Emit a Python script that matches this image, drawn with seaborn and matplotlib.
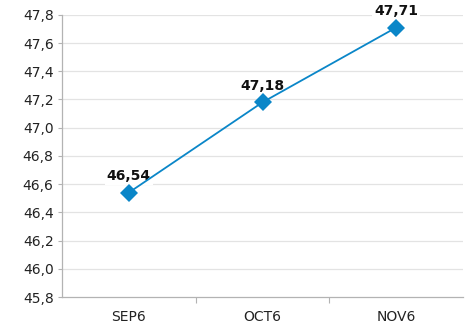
import matplotlib
matplotlib.use("Agg")
import matplotlib.pyplot as plt
import seaborn as sns
import pandas as pd

months = ["SEP6", "OCT6", "NOV6"]
values = [46.54, 47.18, 47.71]
y_ticks = [45.8, 46.0, 46.2, 46.4, 46.6, 46.8, 47.0, 47.2, 47.4, 47.6, 47.8]

sns.set_theme(style="white")
plt.rcParams["font.family"] = ["DejaVu Sans"]

df = pd.DataFrame({"month": months, "value": values})

fig = plt.figure(figsize=(4.73, 3.24), dpi=100)
ax = fig.add_axes([0.131, 0.0833, 0.848, 0.871])

line_color = "#0a86c8"
sns.lineplot(data=df, x="month", y="value", ax=ax, color=line_color,
             marker="D", markersize=9, markeredgewidth=0, linewidth=1.3,
             sort=False, zorder=6)

ax.set_xlim(-0.5, len(months) - 0.5)
ax.set_ylim(45.8, 47.8)
ax.set_yticks(y_ticks)
ax.set_yticklabels([f"{t:.1f}".replace(".", ",") for t in y_ticks])
ax.set_xticks(range(len(months)))
ax.set_xticklabels(months)
ax.set_xticks([i + 0.5 for i in range(len(months) - 1)], minor=True)
ax.set_xlabel("")
ax.set_ylabel("")

grid_color = "#e3e3e3"
axis_color = "#b3b3b3"
for t in y_ticks[1:]:
    ax.axhline(t, color=grid_color, linewidth=0.9, zorder=0)

for side in ("top", "right"):
    ax.spines[side].set_visible(False)
for side in ("left", "bottom"):
    ax.spines[side].set_color(axis_color)
    ax.spines[side].set_linewidth(0.9)

ax.tick_params(axis="y", which="major", left=True, length=3, width=0.8,
               color=axis_color, labelsize=10, labelcolor="#222222", pad=3)
ax.tick_params(axis="x", which="major", bottom=False, labelsize=10,
               labelcolor="#222222", pad=3)
ax.tick_params(axis="x", which="minor", bottom=True, length=4, width=0.8,
               color=axis_color)

for i, v in enumerate(values):
    ax.annotate(f"{v:.2f}".replace(".", ","), xy=(i, v), xytext=(0, 7),
                textcoords="offset points", ha="center", va="bottom",
                fontsize=10, fontweight="bold", color="#111111",
                bbox=dict(boxstyle="square,pad=0.15", facecolor="white",
                          edgecolor="none"), zorder=5)

fig.savefig("out.png", dpi=100, facecolor="white")
